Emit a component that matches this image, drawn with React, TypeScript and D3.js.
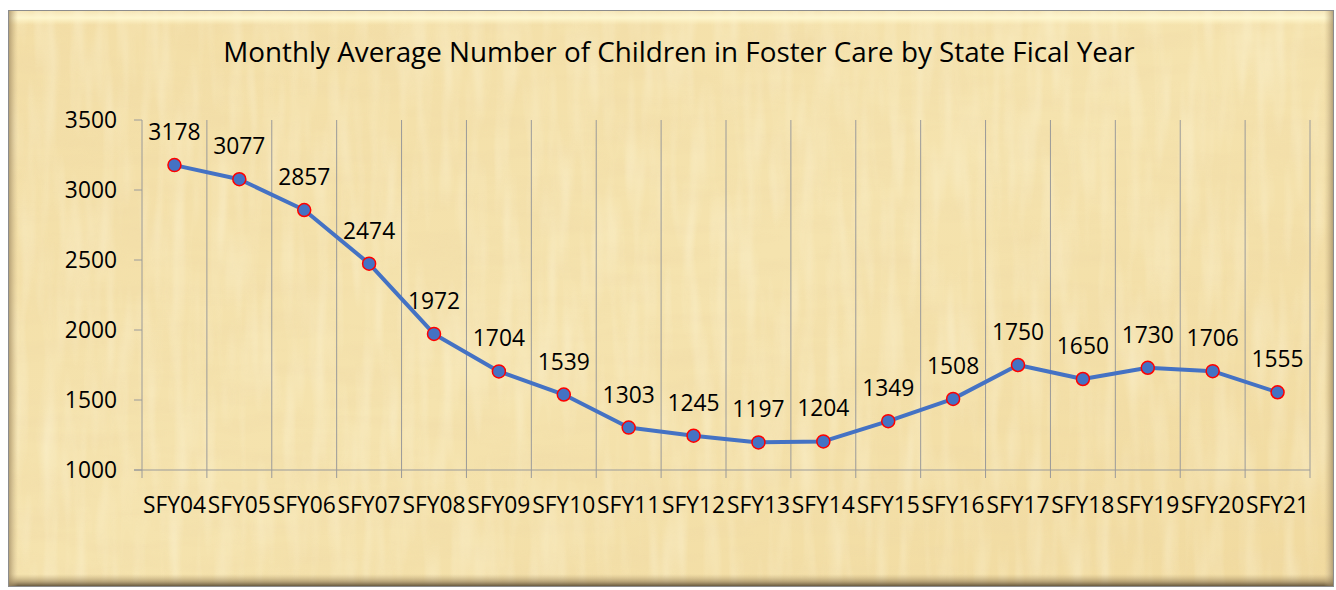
import React from "react";
import * as d3 from "d3";

const categories = ["SFY04","SFY05","SFY06","SFY07","SFY08","SFY09","SFY10","SFY11","SFY12","SFY13","SFY14","SFY15","SFY16","SFY17","SFY18","SFY19","SFY20","SFY21"];
const values = [3178,3077,2857,2474,1972,1704,1539,1303,1245,1197,1204,1349,1508,1750,1650,1730,1706,1555];
const yTicks = [1000,1500,2000,2500,3000,3500];
const title = "Monthly Average Number of Children in Foster Care by State Fical Year";

const W = 1336, H = 590;
const FONT = "'Open Sans', 'Liberation Sans', sans-serif";

export default function App() {
  const left = 142, right = 1310, top = 120, bottom = 470;
  const x = d3.scaleBand<string>().domain(categories).range([left, right]).padding(0);
  const y = d3.scaleLinear().domain([1000, 3500]).range([bottom, top]);
  const cx = (c: string) => (x(c) as number) + x.bandwidth() / 2;
  const line = d3.line<number>().x((_, i) => cx(categories[i])).y(d => y(d)).curve(d3.curveLinear);
  const bounds = categories.map(c => x(c) as number).concat([right]);

  return (
    <svg width={W} height={H} style={{ position: "absolute", left: 0, top: 0, display: "block" }}>
      <defs>
        <linearGradient id="bg" x1="0" y1="0" x2="1" y2="1">
          <stop offset="0" stopColor="#f3dea6" />
          <stop offset="0.5" stopColor="#f5e3ae" />
          <stop offset="1" stopColor="#f1da9f" />
        </linearGradient>
        <filter id="tex" x="0" y="0" width="100%" height="100%">
          <feTurbulence type="fractalNoise" baseFrequency="0.012 0.06" numOctaves="3" seed="4" result="n" />
          <feColorMatrix in="n" type="matrix" values="0 0 0 0 0.85  0 0 0 0 0.68  0 0 0 0 0.38  0 0 0 1.3 -0.5" />
        </filter>
        <filter id="tex2" x="0" y="0" width="100%" height="100%">
          <feTurbulence type="fractalNoise" baseFrequency="0.07 0.01" numOctaves="2" seed="9" result="n" />
          <feColorMatrix in="n" type="matrix" values="0 0 0 0 1  0 0 0 0 0.97  0 0 0 0 0.80  0 0 0 1.4 -0.55" />
        </filter>
        <linearGradient id="topBevel" x1="0" y1="0" x2="0" y2="1">
          <stop offset="0" stopColor="#fffbe0" stopOpacity="0.2" />
          <stop offset="0.5" stopColor="#fff8d0" stopOpacity="0.9" />
          <stop offset="1" stopColor="#fff5c8" stopOpacity="0" />
        </linearGradient>
        <linearGradient id="botBevel" x1="0" y1="0" x2="0" y2="1">
          <stop offset="0" stopColor="#b8a070" stopOpacity="0" />
          <stop offset="0.6" stopColor="#8a7550" stopOpacity="0.6" />
          <stop offset="1" stopColor="#4a3e2a" stopOpacity="0.95" />
        </linearGradient>
        <linearGradient id="leftBevel" x1="0" y1="0" x2="1" y2="0">
          <stop offset="0" stopColor="#9a8660" stopOpacity="0.8" />
          <stop offset="1" stopColor="#c8b080" stopOpacity="0" />
        </linearGradient>
        <linearGradient id="rightBevel" x1="0" y1="0" x2="1" y2="0">
          <stop offset="0" stopColor="#c8b080" stopOpacity="0" />
          <stop offset="1" stopColor="#8a7550" stopOpacity="0.7" />
        </linearGradient>
      </defs>
      <rect x={0} y={0} width={W} height={H} fill="#ffffff" />
      <g>
        <rect x={8} y={10} width={1326} height={577} fill="url(#bg)" />
        <rect x={8} y={10} width={1326} height={577} filter="url(#tex)" opacity={0.45} />
        <rect x={8} y={10} width={1326} height={577} filter="url(#tex2)" opacity={0.45} />
        <rect x={8} y={11} width={1326} height={14} fill="url(#topBevel)" />
        <rect x={8} y={574} width={1326} height={13} fill="url(#botBevel)" />
        <rect x={8} y={10} width={10} height={577} fill="url(#leftBevel)" />
        <rect x={1324} y={10} width={10} height={577} fill="url(#rightBevel)" />
        <rect x={8.5} y={10.5} width={1325} height={576} fill="none" stroke="#8c8c8c" strokeWidth={1} />
      </g>

      <text x={679} y={62} textAnchor="middle" fontFamily={FONT} fontSize={27.8} fill="#000">{title}</text>

      {bounds.slice(1).map((b, i) => (
        <line key={"g" + i} x1={b} x2={b} y1={top} y2={bottom + 8} stroke="#9a9a9a" strokeWidth={1} />
      ))}
      <line x1={left} x2={left} y1={top} y2={bottom + 8} stroke="#9a9a9a" strokeWidth={1} />
      {yTicks.map(t => (
        <g key={"yt" + t}>
          <line x1={left - 8} x2={left} y1={y(t)} y2={y(t)} stroke="#9a9a9a" strokeWidth={1} />
          <text x={117} y={y(t)} dy="0.36em" textAnchor="end" fontFamily={FONT} fontSize={22.8} fill="#000">{t}</text>
        </g>
      ))}
      <line x1={left - 8} x2={right} y1={bottom} y2={bottom} stroke="#9a9a9a" strokeWidth={1} />
      {categories.map(c => (
        <text key={"xl" + c} x={cx(c)} y={513} textAnchor="middle" fontFamily={FONT} fontSize={22.8} fill="#000">{c}</text>
      ))}

      <path d={line(values) as string} fill="none" stroke="#4472c4" strokeWidth={4} strokeLinejoin="round" />
      {values.map((v, i) => (
        <circle key={"p" + i} cx={cx(categories[i])} cy={y(v)} r={6.5} fill="#4472c4" stroke="#ff0000" strokeWidth={1.5} />
      ))}
      {values.map((v, i) => (
        <text key={"dl" + i} x={cx(categories[i])} y={y(v) - 25} textAnchor="middle" fontFamily={FONT} fontSize={22.8} fill="#000">{v}</text>
      ))}
    </svg>
  );
}
